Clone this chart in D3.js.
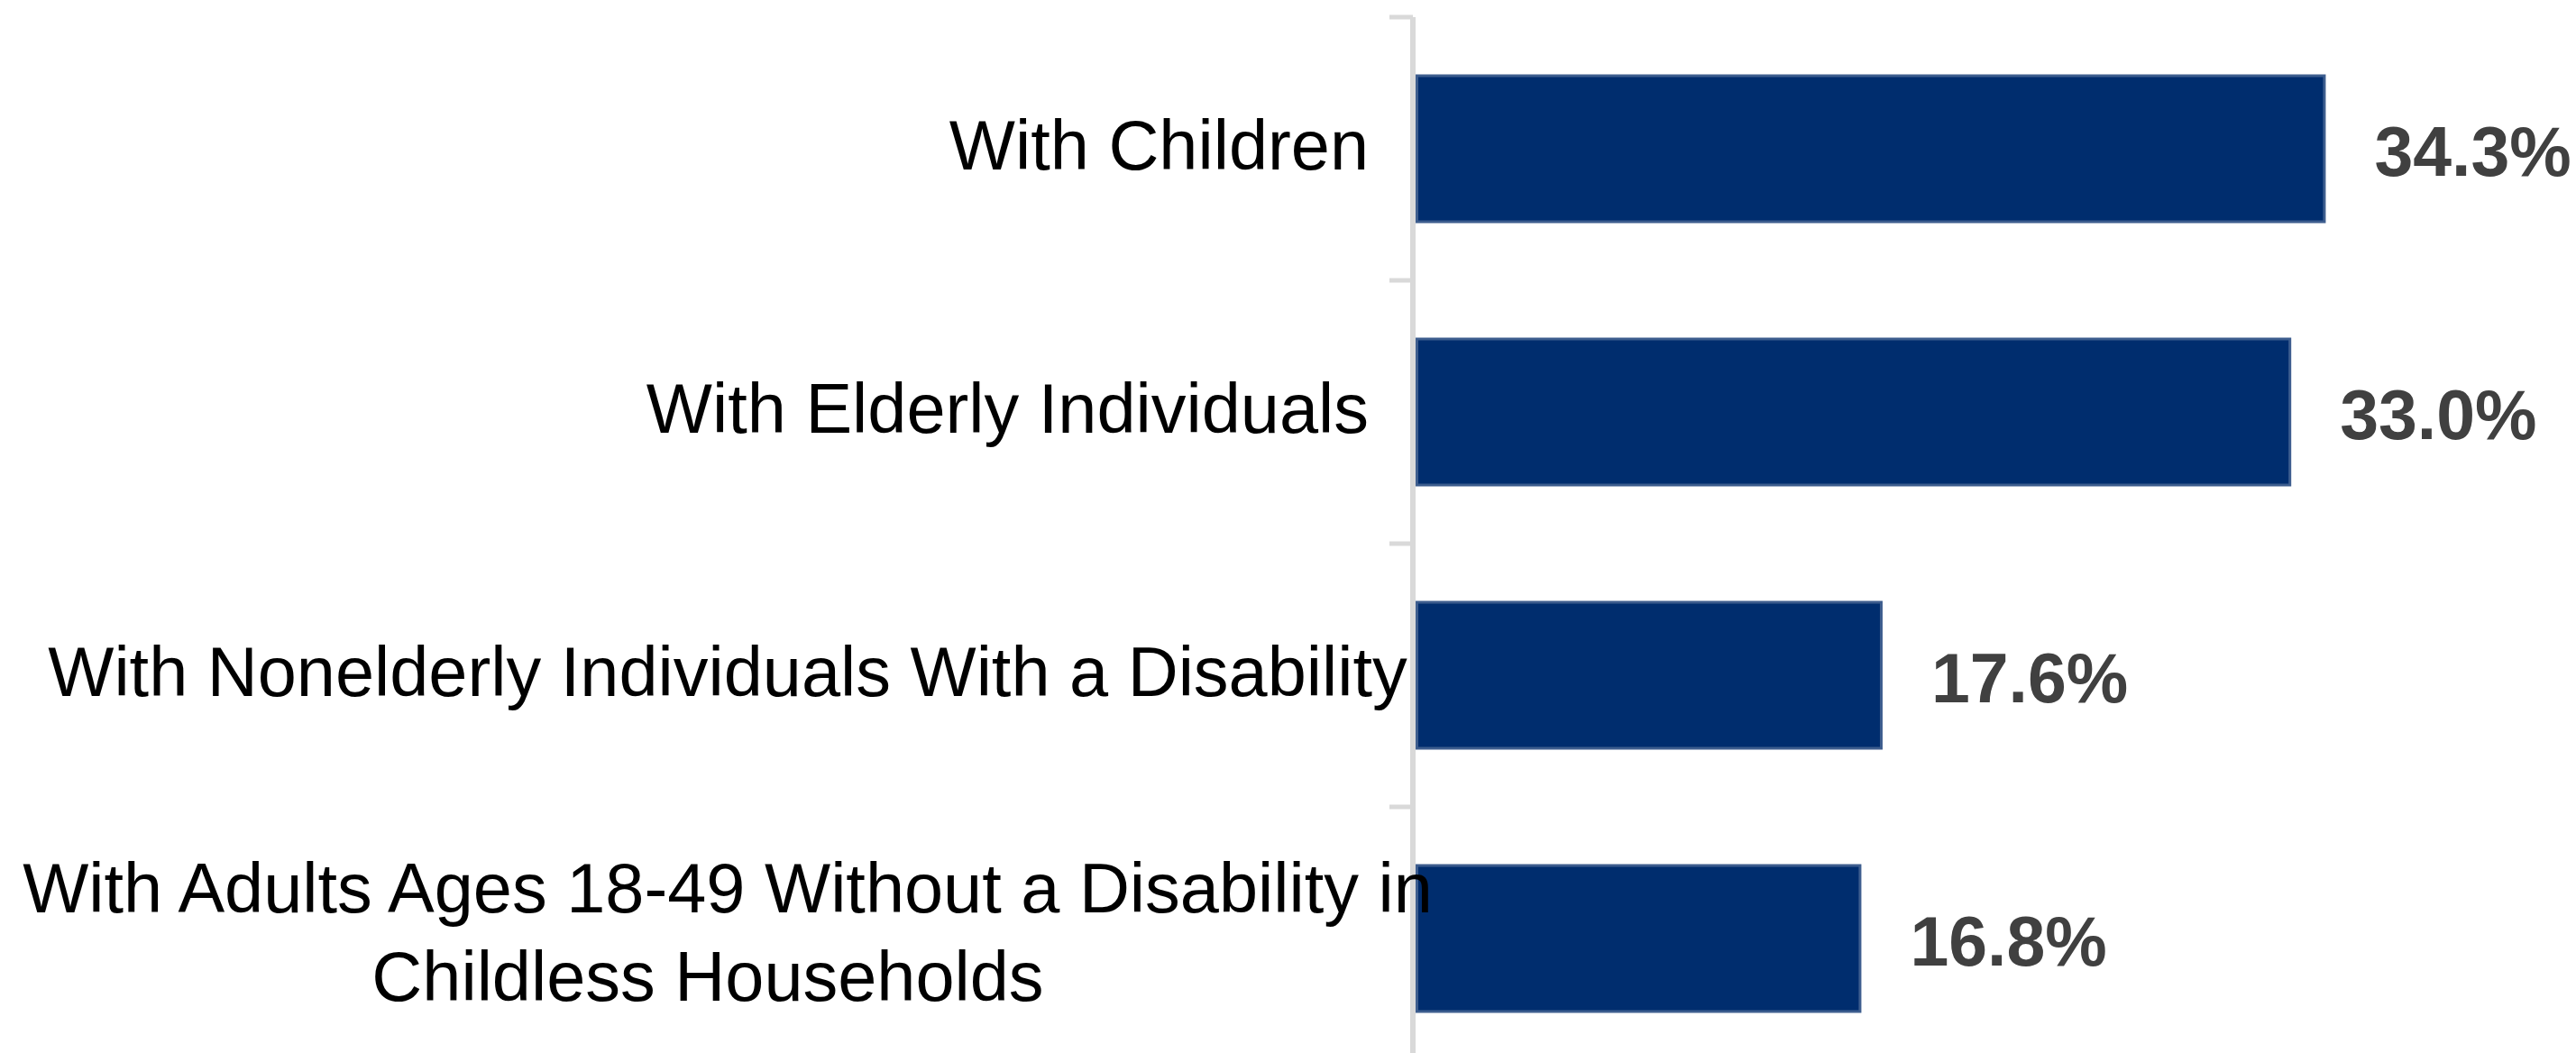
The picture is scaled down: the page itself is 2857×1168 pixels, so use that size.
<!DOCTYPE html>
<html>
<head>
<meta charset="utf-8">
<script src="https://cdn.jsdelivr.net/npm/d3@7"></script>
<style>
  body { margin: 0; background: #fff; }
  svg { display: block; }
</style>
</head>
<body>
<div id="chart"></div>
<script>
// data
const categories = [
  "With Children",
  "With Elderly Individuals",
  "With Nonelderly Individuals With a Disability",
  "With Adults Ages 18-49 Without a Disability in Childless Households"
];
// how the long label wraps
const labelLines = [
  ["With Children"],
  ["With Elderly Individuals"],
  ["With Nonelderly Individuals With a Disability"],
  ["With Adults Ages 18-49 Without a Disability in", "Childless Households"]
];
const values = [34.3, 33.0, 17.6, 16.8];

const width = 2857, height = 1168;
const axisX = 1567;

const svg = d3.select("#chart")
  .append("svg")
  .attr("width", width)
  .attr("height", height)
  .attr("viewBox", `0 0 ${width} ${height}`);

const x = d3.scaleLinear().domain([0, 40]).range([1570, 1570 + 40 * 29.43]);

const y = d3.scaleBand()
  .domain(categories)
  .range([19, 19 + 4 * 292])
  .paddingInner(0.435)
  .paddingOuter(0.2175);

const step = y.step();

// category axis line + ticks at band edges
svg.append("line")
  .attr("x1", axisX).attr("x2", axisX)
  .attr("y1", 19).attr("y2", height)
  .attr("stroke", "#d9d9d9")
  .attr("stroke-width", 6);

const edges = categories.map(c => y(c) - y.paddingInner() * step / 2);
svg.selectAll(".tick")
  .data(edges)
  .enter()
  .append("line")
  .attr("x1", axisX - 26).attr("x2", axisX)
  .attr("y1", d => d).attr("y2", d => d)
  .attr("stroke", "#d9d9d9")
  .attr("stroke-width", 5);

// bars
svg.selectAll(".bar")
  .data(values)
  .enter()
  .append("rect")
  .attr("x", x(0) + 1.5)
  .attr("y", (d, i) => y(categories[i]) + 1.5)
  .attr("width", d => x(d) - x(0) - 3)
  .attr("height", y.bandwidth() - 3)
  .style("fill", "#002d6e")
  .style("stroke", "#3d5d8e")
  .style("stroke-width", 3);

// value labels
svg.selectAll(".val")
  .data(values)
  .enter()
  .append("text")
  .attr("x", d => x(d) + 54)
  .attr("y", (d, i) => y(categories[i]) + y.bandwidth() / 2 + 29.5)
  .text(d => d.toFixed(1) + "%")
  .style("font-family", "Liberation Sans, Arial, sans-serif")
  .style("font-weight", "bold")
  .style("font-size", "77px")
  .style("fill", "#404040");

// category labels: right aligned when they fit, centered when too long
const labelRight = 1518, labelLeft = 27, longCenter = 807, lineGap = 97.7;
labelLines.forEach((lines, i) => {
  const cy = y(categories[i]) + y.bandwidth() / 2;
  const base = cy + 22.5 - (lines.length - 1) * lineGap / 2 - 2.5 * (lines.length - 1);
  const g = svg.append("g");
  const texts = lines.map((ln, k) => g.append("text")
    .attr("y", base + k * lineGap)
    .text(ln)
    .style("font-family", "Liberation Sans, Arial, sans-serif")
    .style("font-size", "77.5px")
    .style("fill", "#000"));
  const widest = d3.max(texts, t => t.node().getComputedTextLength());
  const fits = widest <= labelRight - labelLeft;
  texts.forEach((t, k) => {
    if (fits) t.attr("x", labelRight).attr("text-anchor", "end");
    else t.attr("x", longCenter - k * 22).attr("text-anchor", "middle");
  });
});
</script>
</body>
</html>
